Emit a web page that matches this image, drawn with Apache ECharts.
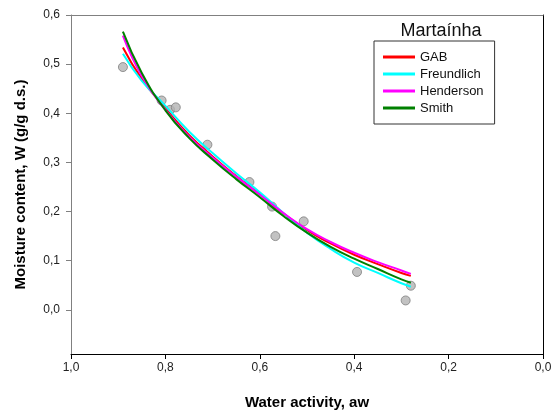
<!DOCTYPE html>
<html><head><meta charset="utf-8">
<script src="https://cdn.jsdelivr.net/npm/echarts@6/dist/echarts.min.js"></script>
<style>html,body{margin:0;padding:0;background:#fff}#c{width:551px;height:412px}</style>
</head><body><div id="c"></div>
<script>
// Experimental points (aw, W)
const expAw = [0.890, 0.808, 0.790, 0.778, 0.711, 0.622, 0.574, 0.567, 0.507, 0.394, 0.291, 0.280];
const expW  = [0.494, 0.426, 0.407, 0.412, 0.336, 0.260, 0.210, 0.150, 0.180, 0.077, 0.019, 0.049];
// Fitted model curves
const curveAw    = [0.89, 0.85, 0.80, 0.75, 0.70, 0.65, 0.60, 0.55, 0.50, 0.45, 0.40, 0.35, 0.30, 0.28];
const gab        = [0.534, 0.470, 0.410, 0.356, 0.312, 0.272, 0.235, 0.196, 0.162, 0.135, 0.112, 0.093, 0.075, 0.069];
const freundlich = [0.521, 0.466, 0.415, 0.363, 0.319, 0.278, 0.239, 0.197, 0.157, 0.124, 0.096, 0.075, 0.054, 0.047];
const henderson  = [0.558, 0.476, 0.407, 0.353, 0.310, 0.271, 0.234, 0.197, 0.164, 0.138, 0.116, 0.097, 0.080, 0.073];
const smith      = [0.566, 0.482, 0.406, 0.350, 0.306, 0.266, 0.229, 0.191, 0.157, 0.128, 0.104, 0.083, 0.062, 0.055];
const yTicks = [0, 0.1, 0.2, 0.3, 0.4, 0.5, 0.6];
const seriesNames = ['GAB', 'Freundlich', 'Henderson', 'Smith'];
const seriesColors = ['#ff0000', '#00ffff', '#ff00ff', '#008000'];
const titleText = 'Martaínha';

const FONT = '"Liberation Sans", Arial, sans-serif';
const fmt = v => v.toFixed(1).replace('.', ',');
const pairs = (xs, ys) => xs.map((x, i) => [x, ys[i]]);
const curves = [gab, freundlich, henderson, smith];

const chart = echarts.init(document.getElementById('c'), null, {renderer: 'canvas'});
chart.setOption({
  animation: false,
  backgroundColor: '#fff',
  textStyle: {fontFamily: FONT},
  title: {
    text: titleText, left: 436, top: 17, textAlign: 'center',
    textStyle: {fontFamily: FONT, fontSize: 18, fontWeight: 'normal', color: '#111'}
  },
  legend: {
    data: seriesNames, orient: 'vertical', left: 374, top: 41,
    borderColor: '#333', borderWidth: 1, padding: [9, 11, 9, 9],
    itemGap: 3, itemWidth: 32, itemHeight: 3, icon: 'rect',
    textStyle: {fontFamily: FONT, fontSize: 13, color: '#111', lineHeight: 14}
  },
  grid: {left: 71, right: 8, top: 15, bottom: 58, containLabel: false, outerBoundsMode: 'none'},
  xAxis: [{
    type: 'value', inverse: true, min: 0, max: 1, interval: 0.2,
    name: 'Water activity, aw', nameLocation: 'middle', nameGap: 41,
    nameTextStyle: {fontFamily: FONT, fontSize: 15, fontWeight: 'bold', color: '#000'},
    axisLine: {onZero: false, lineStyle: {color: '#000', width: 1}},
    axisTick: {length: 5, lineStyle: {color: '#000'}},
    axisLabel: {formatter: fmt, fontFamily: FONT, fontSize: 12, color: '#222', margin: 8},
    splitLine: {show: false}
  }, {
    type: 'value', inverse: true, min: 0, max: 1, position: 'top',
    axisLine: {show: true, onZero: false, lineStyle: {color: '#808080'}},
    axisTick: {show: false}, axisLabel: {show: false}, splitLine: {show: false}
  }],
  yAxis: [{
    type: 'value', min: -0.09, max: 0.6,
    name: 'Moisture content, W (g/g d.s.)', nameLocation: 'middle', nameGap: 43,
    nameTextStyle: {fontFamily: FONT, fontSize: 15, fontWeight: 'bold', color: '#000'},
    axisLine: {show: true, onZero: false, lineStyle: {color: '#808080', width: 1}},
    axisTick: {show: true, length: 5, customValues: yTicks, lineStyle: {color: '#808080'}},
    axisLabel: {customValues: yTicks, formatter: fmt, fontFamily: FONT, fontSize: 12, color: '#222', margin: 11},
    splitLine: {show: false}
  }, {
    type: 'value', min: -0.09, max: 0.6, position: 'right',
    axisLine: {show: true, onZero: false, lineStyle: {color: '#000'}},
    axisTick: {show: false}, axisLabel: {show: false}, splitLine: {show: false}
  }],
  series: [{
    name: 'exp', type: 'scatter', data: pairs(expAw, expW), symbolSize: 9, z: 1,
    itemStyle: {color: '#b3b3b3', borderColor: '#808080', borderWidth: 1}
  }].concat(seriesNames.map((n, i) => ({
    name: n, type: 'line', data: pairs(curveAw, curves[i]), smooth: true,
    symbol: 'none', z: 2 + i, color: seriesColors[i],
    lineStyle: {color: seriesColors[i], width: 2}
  })))
});
</script></body></html>
